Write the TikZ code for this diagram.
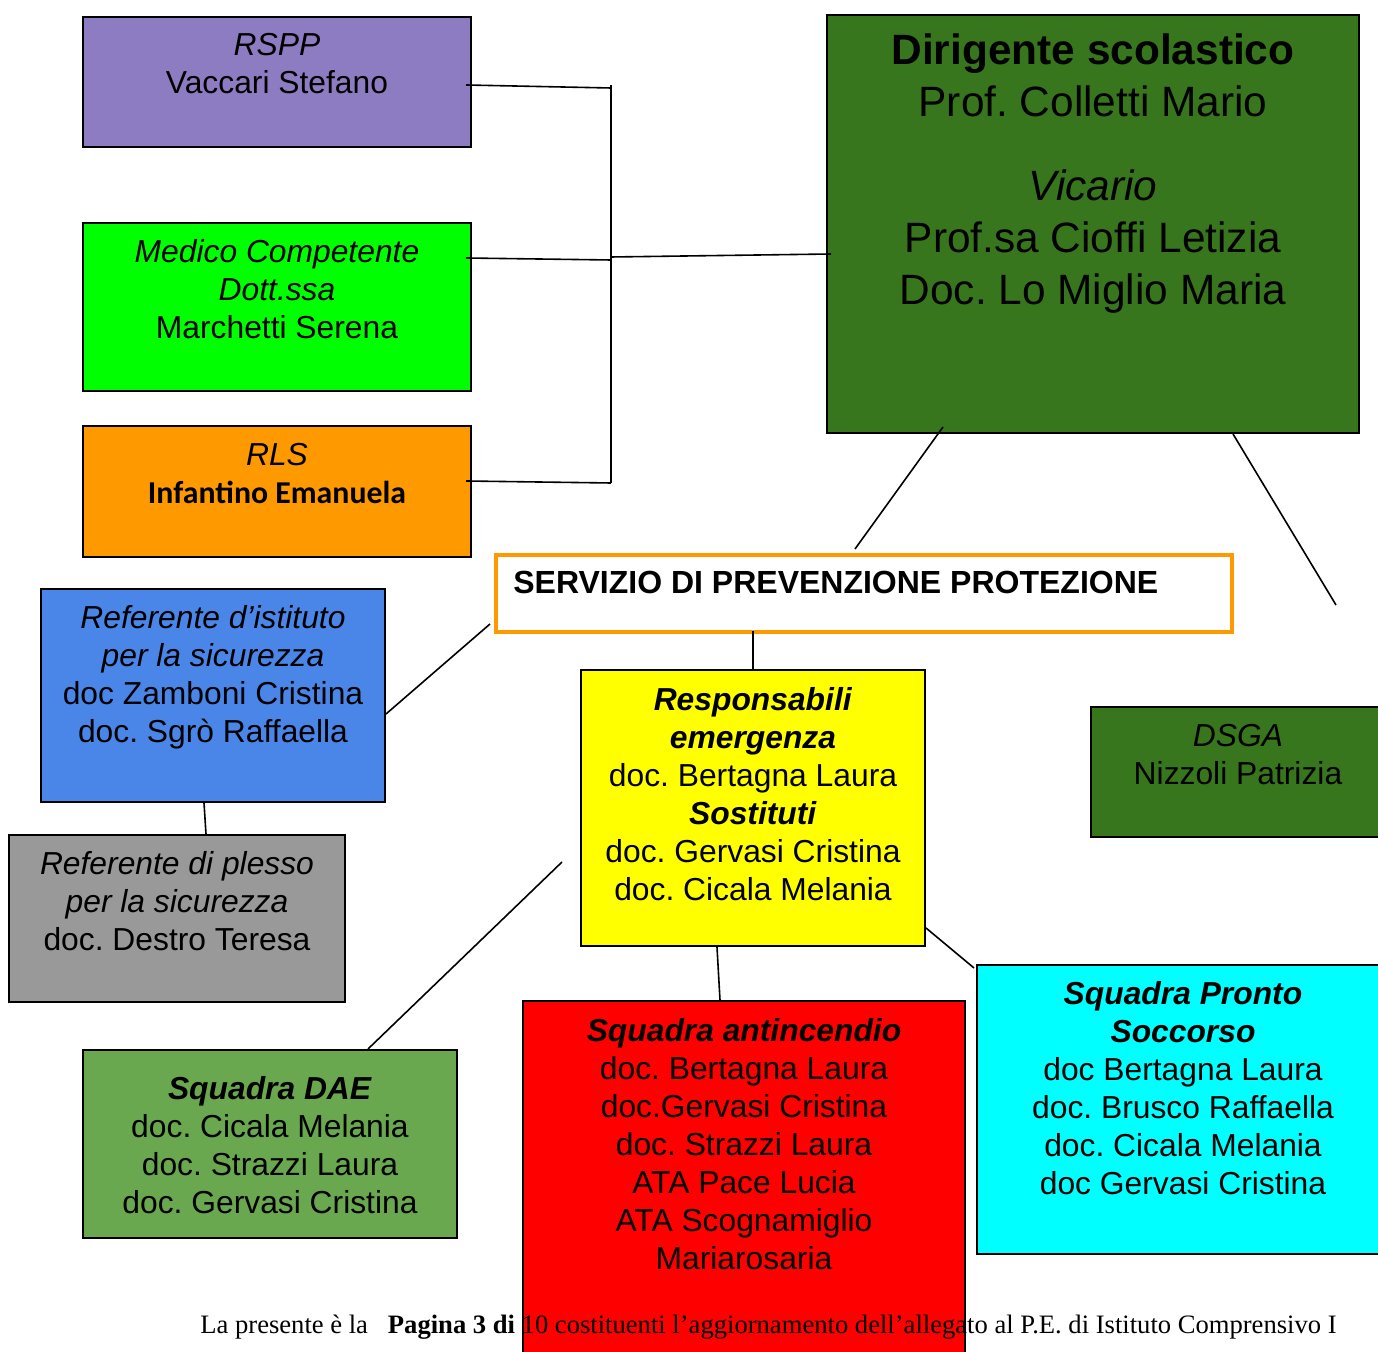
\documentclass[tikz,border=0pt]{standalone}
\usepackage{fontspec}
\setmainfont{Liberation Sans}
\newfontfamily\carlito{Carlito}
\newfontfamily\timesf{Liberation Serif}
\usetikzlibrary{calc}
\frenchspacing
\definecolor{cpurple}{HTML}{8E7CC3}
\definecolor{cgreen}{HTML}{00FF00}
\definecolor{corange}{HTML}{FF9900}
\definecolor{cdark}{HTML}{38761D}
\definecolor{cblue}{HTML}{4A86E8}
\definecolor{cgray}{HTML}{999999}
\definecolor{cyellow}{HTML}{FFFF00}
\definecolor{cdae}{HTML}{6AA84F}
\definecolor{cred}{HTML}{FF0000}
\definecolor{ccyan}{HTML}{00FFFF}
\tikzset{
  box/.style={draw=black, line width=1pt, inner sep=0pt, rectangle},
  txt/.style={anchor=north, inner sep=0pt, align=center, font=\frenchspacing\fontsize{15.9}{19}\selectfont},
  bigtxt/.style={anchor=north, inner sep=0pt, align=center, font=\frenchspacing\fontsize{21.2}{26}\selectfont},
  conn/.style={draw=black, line width=0.8pt},
}
\begin{document}
\begin{tikzpicture}[x=0.5pt,y=-0.5pt]
\clip (0,0) rectangle (1378,1352);
\fill[white] (0,0) rectangle (1378,1352);

% boxes
\node[box, fill=cpurple, minimum width=194pt, minimum height=65pt] (rspp) at (277,82) {};
\node[box, fill=cgreen, minimum width=194pt, minimum height=84pt] (medico) at (277,307) {};
\node[box, fill=corange, minimum width=194pt, minimum height=65.5pt] (rls) at (277,491.5) {};
\node[box, fill=cdark, minimum width=266pt, minimum height=209pt] (dir) at (1093,224) {};
\node[draw=corange, line width=2pt, fill=white, inner sep=0pt, minimum width=368pt, minimum height=38.5pt] (spp) at (864,593.5) {};
\node[box, fill=cblue, minimum width=172pt, minimum height=106.5pt] (blue) at (213,695.5) {};
\node[box, fill=cgray, minimum width=168pt, minimum height=83.5pt] (gray) at (177,918.5) {};
\node[box, fill=cyellow, minimum width=172pt, minimum height=138pt] (yellow) at (753,808) {};
\node[box, fill=cdark, minimum width=149.5pt, minimum height=65pt] (dsga) at (1240.5,772) {};
\node[box, fill=cdae, minimum width=187pt, minimum height=94pt] (dae) at (270,1144) {};
\node[box, fill=cred, minimum width=221pt, minimum height=199.5pt] (red) at (744,1200.5) {};
\node[box, fill=ccyan, minimum width=211.5pt, minimum height=144.5pt] (cyan) at (1188.5,1109.5) {};

% texts
\node[txt] (rsppT) at (277,33) {\textit{RSPP}\\Vaccari Stefano};
\node[txt] (medicoT) at (277,239) {\textit{Medico Competente}\\\textit{Dott.ssa}\\Marchetti Serena};
\node[txt] (rlsT) at (277,443) {\textit{RLS}\\{\carlito\bfseries Infantino Emanuela}};
\node[bigtxt] (dirT) at (1093,33) {\textbf{Dirigente scolastico}\\Prof. Colletti Mario\\[16pt]\textit{Vicario}\\Prof.sa Cioffi Letizia\\Doc. Lo Miglio Maria};
\node[anchor=west, inner sep=0pt, font=\fontsize{16}{19}\selectfont\bfseries] (sppT) at (513,582) {SERVIZIO DI PREVENZIONE PROTEZIONE};
\node[txt] (blueT) at (213,605) {\textit{Referente d’istituto}\\\textit{per la sicurezza}\\doc Zamboni Cristina\\doc. Sgrò Raffaella};
\node[txt] (grayT) at (177,851) {\textit{Referente di plesso}\\\textit{per la sicurezza}\\doc. Destro Teresa};
\node[txt] (yellowT) at (753,687) {\textbf{\textit{Responsabili}}\\\textbf{\textit{emergenza}}\\doc. Bertagna Laura\\\textbf{\textit{Sostituti}}\\doc. Gervasi Cristina\\doc. Cicala Melania};
\node[txt] (dsgaT) at (1238,724) {\textit{DSGA}\\Nizzoli Patrizia};
\node[txt] (daeT) at (270,1076) {\textbf{\textit{Squadra DAE}}\\doc. Cicala Melania\\doc. Strazzi Laura\\doc. Gervasi Cristina};
\node[txt] (redT) at (744,1018) {\textbf{\textit{Squadra antincendio}}\\doc. Bertagna Laura\\doc.Gervasi Cristina\\doc. Strazzi Laura\\ATA Pace Lucia\\ATA Scognamiglio\\Mariarosaria};
\node[txt] (cyanT) at (1183,981) {\textbf{\textit{Squadra Pronto}}\\\textbf{\textit{Soccorso}}\\doc Bertagna Laura\\doc. Brusco Raffaella\\doc. Cicala Melania\\doc Gervasi Cristina};

% connectors
\coordinate (jtop) at (611,85);
\coordinate (j1) at (611,88);
\coordinate (j2) at (611,260);
\coordinate (jm) at (611,257);
\coordinate (j3) at (611,483);
\coordinate (cr) at (1336,605);
\coordinate (cl) at (562,862);
\draw[conn] ($(rspp.east)+(-6,3)$) -- (j1);
\draw[conn] (jtop) -- (j3);
\draw[conn] ($(medico.east)+(-6,-49)$) -- (j2);
\draw[conn] ($(rls.east)+(-6,-10.5)$) -- (j3);
\draw[conn] (jm) -- ($(dir.west)+(5,30)$);
\draw[conn] ($(dir.south)+(-150,-7)$) -- ($(spp.north)+(-9,-4)$);
\draw[conn] ($(dir.south)+(140,0)$) -- (cr);
\draw[conn] ($(spp.west)+(-4,30.5)$) -- ($(blue.east)+(0,18.5)$);
\draw[conn] ($(spp.south)+(-111,-3)$) -- (yellow.north);
\draw[conn] ($(blue.south)+(-9,0)$) -- ($(gray.north)+(29,0)$);
\draw[conn] (cl) -- ($(dae.north)+(98,0)$);
\draw[conn] ($(yellow.south)+(-36,0)$) -- ($(red.north)+(-24,0)$);
\draw[conn] ($(yellow.east)+(0,120)$) -- ($(cyan.west)+(-2,-141.5)$);

% footer
\node[anchor=base west, inner sep=0pt, font=\timesf\frenchspacing\fontsize{13.3}{16}\selectfont] (foot) at (200,1333) {La presente è la\hspace{0.75em}\textbf{Pagina 3 di} 10 costituenti l’aggiornamento dell’allegato al P.E. di Istituto Comprensivo I};
\end{tikzpicture}
\end{document}
